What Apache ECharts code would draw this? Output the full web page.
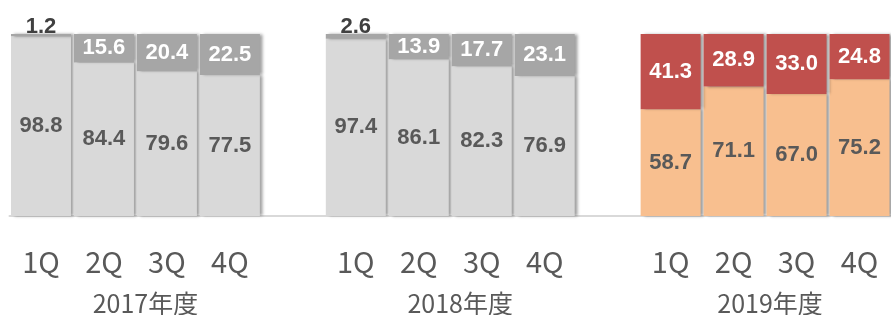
<!DOCTYPE html>
<html><head><meta charset="utf-8">
<script src="https://cdn.jsdelivr.net/npm/echarts@6/dist/echarts.min.js"></script>
<style>html,body{margin:0;padding:0;background:#fff}#c{width:891px;height:315px}</style>
</head><body><div id="c"></div>
<script>
const categories = ['2017-1Q','2017-2Q','2017-3Q','2017-4Q','gap1','2018-1Q','2018-2Q','2018-3Q','2018-4Q','gap2','2019-1Q','2019-2Q','2019-3Q','2019-4Q'];
const quarterLabels = ['1Q','2Q','3Q','4Q','','1Q','2Q','3Q','4Q','','1Q','2Q','3Q','4Q'];
const yearLabels = ['2017年度','2018年度','2019年度'];
const lowerValues = [98.8,84.4,79.6,77.5,null,97.4,86.1,82.3,76.9,null,58.7,71.1,67.0,75.2];
const upperValues = [1.2,15.6,20.4,22.5,null,2.6,13.9,17.7,23.1,null,41.3,28.9,33.0,24.8];

const numFont = '"Liberation Sans", Arial, sans-serif';
const shadow = {shadowColor:'rgba(0,0,0,0.38)', shadowBlur:3, shadowOffsetX:3, shadowOffsetY:0};

function lowerItem(v,i){
  if (v==null) return null;
  const col = i>=10 ? '#f8bf8f' : '#d9d9d9';
  return {value:v, itemStyle:Object.assign({color:col}, shadow)};
}
function upperItem(v,i){
  if (v==null) return null;
  const col = i>=10 ? '#c0504d' : '#a6a6a6';
  const small = v < 5;
  return {value:v, itemStyle:Object.assign({color:col}, shadow),
    label: small ? {position:'top', color:'#404040', distance:0, offset:[0,4]} : {position:'inside', color:'#ffffff'}};
}

const chart = echarts.init(document.getElementById('c'));
chart.setOption({
  animation:false,
  grid:{left:9.5, right:0, top:34, bottom:99},
  xAxis:{type:'category', data:categories,
    axisLine:{lineStyle:{color:'#d9d9d9', width:2}}, axisTick:{show:false},
    axisLabel:{formatter:(v,i)=>quarterLabels[i], color:'#595959', fontSize:29,
      fontFamily:'"Noto Sans CJK JP", "Noto Sans", sans-serif', margin:31}},
  yAxis:{type:'value', min:0, max:100, show:false, splitLine:{show:false}},
  series:[
    {type:'bar', stack:'s', barWidth:60, data:lowerValues.map(lowerItem),
      label:{show:true, position:'inside', color:'#595959', fontSize:22, fontWeight:'bold', fontFamily:numFont,
        formatter:p=>p.value.toFixed(1)}},
    {type:'bar', stack:'s', barWidth:60, data:upperValues.map(upperItem),
      label:{show:true, fontSize:22, fontWeight:'bold', fontFamily:numFont,
        formatter:p=>p.value.toFixed(1)}}
  ]
});

const groupStarts = [0,5,10];
const offsets = [10,10,5];
chart.setOption({graphic: yearLabels.map((t,g)=>{
  const a = chart.convertToPixel({xAxisIndex:0}, groupStarts[g]+1);
  const b = chart.convertToPixel({xAxisIndex:0}, groupStarts[g]+2);
  return {type:'text', x:(a+b)/2+offsets[g], y:303,
    style:{text:t, fill:'#595959', font:'25px "Noto Sans CJK JP", sans-serif', textAlign:'center', textVerticalAlign:'middle'}};
})});
</script></body></html>
